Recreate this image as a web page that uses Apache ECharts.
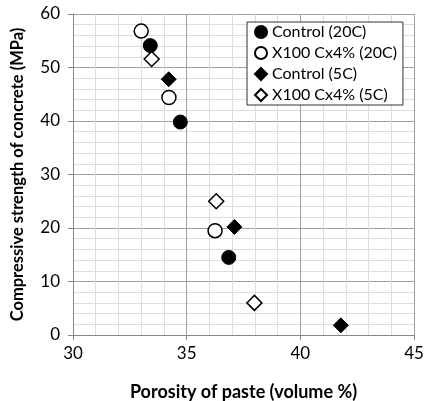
<!DOCTYPE html>
<html>
<head>
<meta charset="utf-8">
<script src="https://cdn.jsdelivr.net/npm/echarts@6/dist/echarts.min.js"></script>
<style>
  html, body { margin: 0; padding: 0; background: #fff; }
  #chart { width: 425px; height: 401px; }
</style>
</head>
<body>
<div id="chart"></div>
<script>
// porosity (x) / strength (y) pairs
const control20 = [[33.4, 54.1], [34.72, 39.8], [36.85, 14.5]];
const x100_20 = [[33.0, 56.8], [34.22, 44.4], [36.25, 19.5]];
const control5 = [[34.21, 47.8], [37.1, 20.2], [41.78, 1.8]];
const x100_5 = [[33.46, 51.6], [36.3, 25.0], [37.98, 6.0]];

const seriesNames = ["Control (20C)", "X100 Cx4% (20C)", "Control (5C)", "X100 Cx4% (5C)"];

const font = "Lato, 'Open Sans', sans-serif";

const chart = echarts.init(document.getElementById("chart"));

// scatter defaults to 0.8 opacity, the original marks are solid
const filled = { color: "#000", borderColor: "#000", borderWidth: 1, opacity: 1 };
const hollow = { color: "#fff", borderColor: "#000", borderWidth: 1.5, opacity: 1 };

chart.setOption({
  animation: false,
  grid: { left: 73, right: 11, top: 14, bottom: 66, outerBoundsMode: "none", containLabel: false },
  legend: {
    orient: "vertical",
    left: 247,
    top: 22,
    itemGap: 3,
    itemWidth: 12,
    itemHeight: 12,
    padding: [1, 6, 1, 7],
    backgroundColor: "#fff",
    borderColor: "#333",
    borderWidth: 1,
    textStyle: { fontFamily: font, fontSize: 16, lineHeight: 18, color: "#000" },
    data: seriesNames
  },
  xAxis: {
    type: "value",
    min: 30,
    max: 45,
    interval: 5,
    minorTick: { show: false, splitNumber: 5 },
    minorSplitLine: { show: true, lineStyle: { color: "#dcdcdc", width: 1 } },
    splitLine: { show: true, lineStyle: { color: "#a0a0a0", width: 1 } },
    axisLine: { show: true, onZero: false, lineStyle: { color: "#868686" } },
    axisTick: { show: true, length: 5, lineStyle: { color: "#868686" } },
    axisLabel: { fontFamily: font, fontSize: 17, color: "#000", margin: 10 },
    name: "Porosity of paste (volume %)",
    nameLocation: "middle",
    nameGap: 48,
    nameTextStyle: { fontFamily: font, fontSize: 18, fontWeight: "bold", color: "#000" }
  },
  yAxis: {
    type: "value",
    min: 0,
    max: 60,
    interval: 10,
    minorTick: { show: false, splitNumber: 5 },
    minorSplitLine: { show: true, lineStyle: { color: "#dcdcdc", width: 1 } },
    splitLine: { show: true, lineStyle: { color: "#a0a0a0", width: 1 } },
    axisLine: { show: true, onZero: false, lineStyle: { color: "#868686" } },
    axisTick: { show: true, length: 5, lineStyle: { color: "#868686" } },
    axisLabel: { fontFamily: font, fontSize: 17, color: "#000", margin: 13 },
    name: "Compressive strength of concrete (MPa)",
    nameLocation: "middle",
    nameGap: 47,
    nameTextStyle: { fontFamily: font, fontSize: 16.5, fontWeight: "bold", color: "#000" }
  },
  series: [
    { name: seriesNames[0], type: "scatter", symbol: "circle", symbolSize: 14, itemStyle: filled, data: control20 },
    { name: seriesNames[1], type: "scatter", symbol: "circle", symbolSize: 14, itemStyle: hollow, data: x100_20 },
    { name: seriesNames[2], type: "scatter", symbol: "diamond", symbolSize: 15, itemStyle: filled, data: control5 },
    { name: seriesNames[3], type: "scatter", symbol: "diamond", symbolSize: 15, itemStyle: hollow, data: x100_5 }
  ]
});
</script>
</body>
</html>
